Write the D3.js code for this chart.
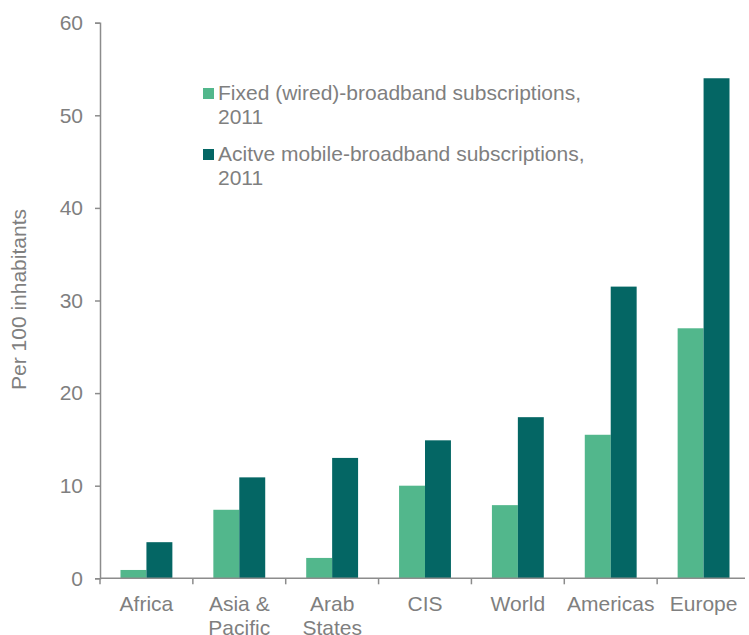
<!DOCTYPE html>
<html>
<head>
<meta charset="utf-8">
<script src="https://cdn.jsdelivr.net/npm/d3@7"></script>
<style>
  body { margin: 0; background: #fff; }
  text { font-family: "Liberation Sans", Arial, sans-serif; fill: #7f7f7f; }
</style>
</head>
<body>
<svg width="749" height="635"></svg>
<script>
// regions along the x axis (label lines split by "\n")
var regions = ['Africa', 'Asia &\nPacific', 'Arab\nStates', 'CIS', 'World', 'Americas', 'Europe'];
var fixedBroadband = [0.9, 7.4, 2.2, 10, 7.9, 15.5, 27];
var mobileBroadband = [3.9, 10.9, 13, 14.9, 17.4, 31.5, 54];
var seriesNames = ['Fixed (wired)-broadband subscriptions,\n2011', 'Acitve mobile-broadband subscriptions,\n2011'];
var yTicks = [0, 10, 20, 30, 40, 50, 60];

var colors = ['#52b78c', '#046664'];
var axisColor = '#8c8c8c';

var svg = d3.select('svg');
// note: not "top" - that one is taken by window.top
var plotLeft = 100, plotRight = 750, plotTop = 22.7, plotBottom = 578.3;

var x0 = d3.scaleBand().domain(regions).range([plotLeft, plotRight]).padding(0);
var x1 = d3.scaleBand().domain([0, 1]).range([0, x0.bandwidth()]).paddingInner(0).paddingOuter(0.79);
var y = d3.scaleLinear().domain([0, 60]).range([plotBottom, plotTop]);

var rows = regions.map(function(r, i) {
    return { region: r, values: [fixedBroadband[i], mobileBroadband[i]] };
});

// bars
var groups = svg.selectAll('g.region')
    .data(rows)
    .enter().append('g')
    .attr('class', 'region')
    .attr('transform', d => 'translate(' + x0(d.region) + ',0)');

groups.selectAll('rect')
    .data(d => d.values)
    .enter().append('rect')
    .attr('x', (d, i) => x1(i))
    .attr('width', x1.bandwidth())
    .attr('y', d => y(d))
    .attr('height', d => y(0) - y(d))
    .attr('fill', (d, i) => colors[i]);

// y axis
var yAxis = svg.append('g')
    .attr('transform', 'translate(' + plotLeft + ',0)')
    .call(d3.axisLeft(y).tickValues(yTicks).tickSize(5).tickPadding(12));
yAxis.select('.domain').attr('stroke', axisColor).attr('stroke-width', 1.5);
yAxis.selectAll('.tick line').attr('stroke', axisColor).attr('stroke-width', 1.5);
yAxis.selectAll('.tick text').attr('font-size', 21).attr('fill', '#7f7f7f')
    .style('font-family', '"Liberation Sans", Arial, sans-serif');

// x axis: ticks at band edges
var xAxis = svg.append('g')
    .attr('transform', 'translate(0,' + plotBottom + ')');
xAxis.append('line')
    .attr('x1', plotLeft).attr('x2', 745)
    .attr('stroke', axisColor).attr('stroke-width', 1.5);
xAxis.selectAll('line.tick')
    .data(regions)
    .enter().append('line')
    .attr('class', 'tick')
    .attr('x1', d => x0(d)).attr('x2', d => x0(d))
    .attr('y1', 0).attr('y2', 6)
    .attr('stroke', axisColor).attr('stroke-width', 1.5);

var xLabels = xAxis.selectAll('text.xl')
    .data(regions)
    .enter().append('text')
    .attr('class', 'xl')
    .attr('text-anchor', 'middle')
    .attr('font-size', 21)
    .attr('transform', d => 'translate(' + (x0(d) + x0.bandwidth() / 2) + ',33)');
xLabels.selectAll('tspan')
    .data(d => d.split('\n'))
    .enter().append('tspan')
    .attr('x', 0)
    .attr('dy', (d, i) => i === 0 ? 0 : 24)
    .text(d => d);

// y title
svg.append('text')
    .attr('transform', 'translate(26,' + ((plotTop + plotBottom) / 2 - 1) + ') rotate(-90)')
    .attr('text-anchor', 'middle')
    .attr('font-size', 21)
    .text('Per 100 inhabitants');

// legend
var legend = svg.selectAll('g.legend')
    .data(seriesNames)
    .enter().append('g')
    .attr('class', 'legend')
    .attr('transform', (d, i) => 'translate(203,' + (100 + i * 61) + ')');
legend.append('rect')
    .attr('x', 0).attr('y', -12)
    .attr('width', 11).attr('height', 11)
    .attr('fill', (d, i) => colors[i]);
var lt = legend.append('text')
    .attr('font-size', 21);
lt.selectAll('tspan')
    .data(d => d.split('\n'))
    .enter().append('tspan')
    .attr('x', 15)
    .attr('dy', (d, i) => i === 0 ? 0 : 24)
    .text(d => d);
</script>
</body>
</html>
